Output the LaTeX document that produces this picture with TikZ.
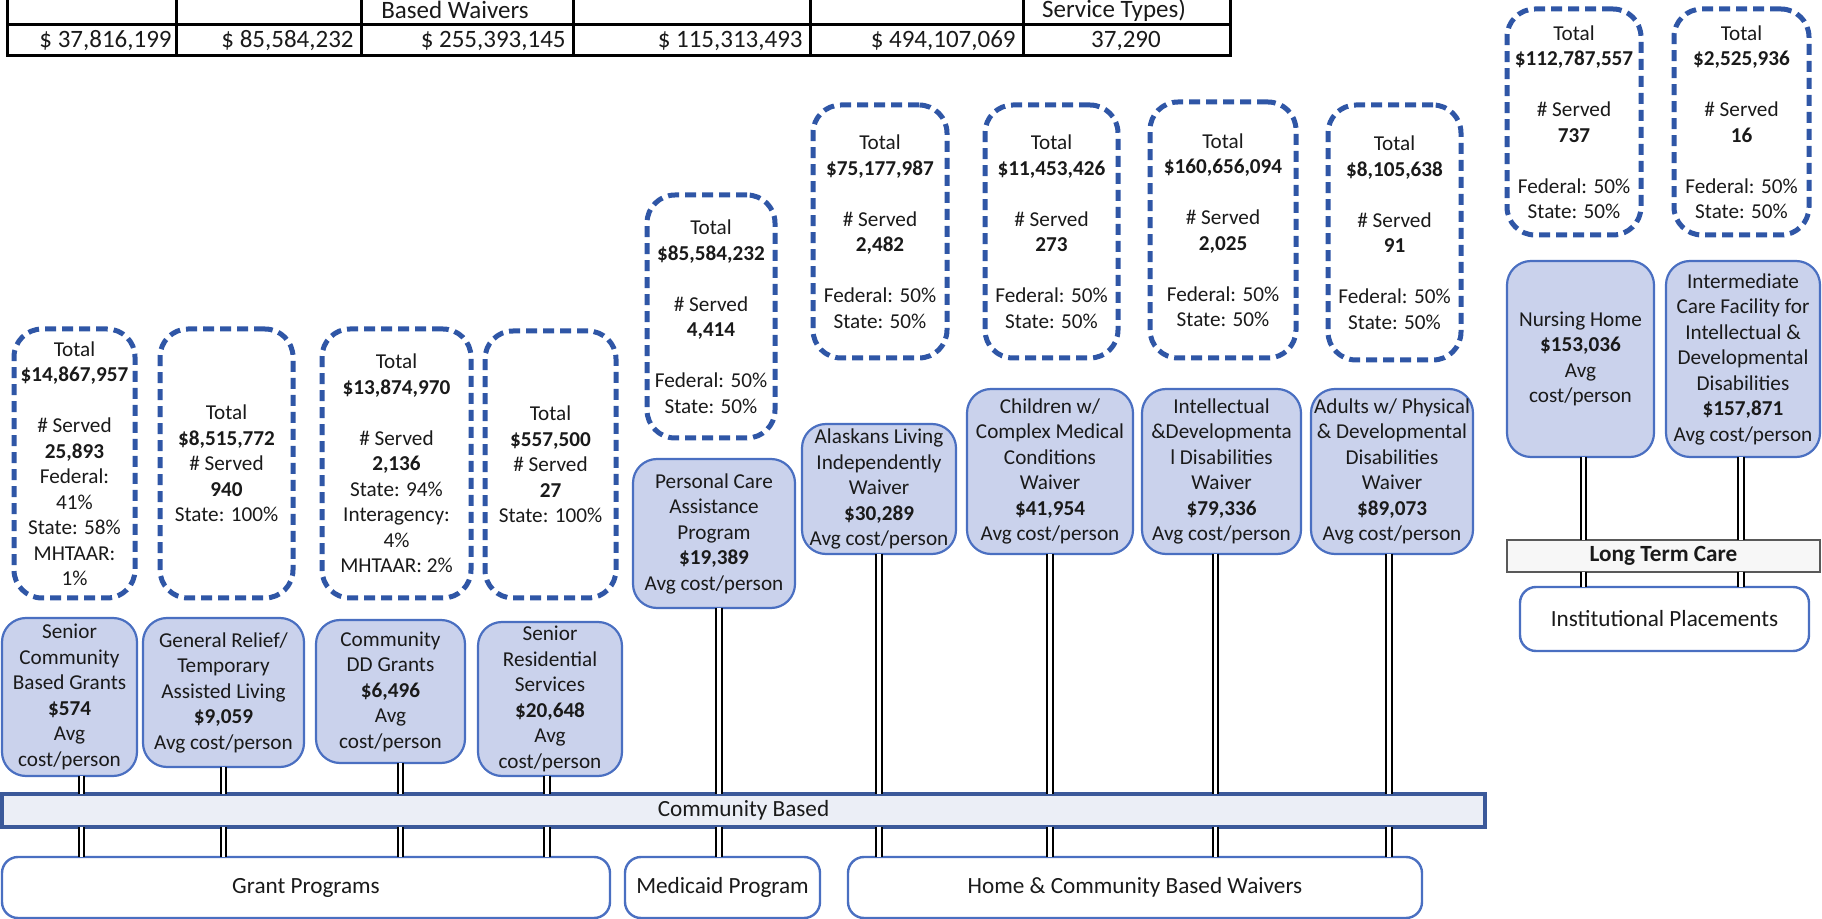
\documentclass[tikz,border=0pt]{standalone}
\usepackage{fontspec}
\setmainfont{Carlito}
\definecolor{dblue}{HTML}{2F56A6}
\definecolor{fblue}{HTML}{CAD2EC}
\definecolor{bblue}{HTML}{4A6FC1}
\definecolor{cbfill}{HTML}{EBEEF6}
\definecolor{txt}{HTML}{1A1A1A}
\tikzset{
  boxfont/.style={font=\fontsize{10.6}{12.75}\selectfont, text=txt},
  dashbox/.style={boxfont, draw=dblue, line width=2.5pt, dash pattern=on 5.5pt off 3pt, rounded corners=14pt, fill=white, align=center, inner sep=0pt, outer sep=0pt},
  fillbox/.style={boxfont, draw=bblue, line width=1.1pt, fill=fblue, rounded corners=12pt, align=center, inner sep=0pt, outer sep=0pt},
  catbox/.style={draw=bblue, line width=1.2pt, fill=white, rounded corners=8pt, align=center, inner sep=0pt, outer sep=0pt, font=\fontsize{11.6}{14}\selectfont, text=txt},
  cbar/.style={draw=bblue!80!black, line width=1.6pt, fill=cbfill, inner sep=0pt, outer sep=0pt, font=\fontsize{11.6}{14}\selectfont, text=txt},
  ltcbar/.style={draw=black!65, line width=1.2pt, fill=black!3, inner sep=0pt, outer sep=0pt, font=\bfseries\fontsize{11.6}{14}\selectfont, text=txt},
  dbl/.style={draw=black, line width=0.9pt, double=white, double distance=1.8pt},
  tbl/.style={draw=black, line width=1.5pt},
  tcell/.style={font=\fontsize{12.5}{14}\selectfont, inner sep=2pt, text=txt}
}
\newcommand\mkbox[7]{%
  \pgfmathsetmacro\bw{(#5-#3)*0.5}%
  \pgfmathsetmacro\bh{(#6-#4)*0.5}%
  \node[#1, minimum width=\bw pt, minimum height=\bh pt] (#2) at ({(#3+#5)/2},{(#4+#6)/2}) {#7};}
\begin{document}
\begin{tikzpicture}[x=0.5pt,y=-0.5pt]
\useasboundingbox (0,0) rectangle (1822,919);
% ---- table ----
\draw[tbl] (7,0) -- (7,56) -- (1230,56) -- (1230,0);
\draw[tbl] (7,25) -- (1230,25);
\foreach \x in {176,361,573,810,1023} \draw[tbl] (\x,0) -- (\x,56);
\node[tcell] (h3) at (455,10) {Based Waivers};
\node[tcell] (h6) at (1114,10) {Service Types)};
\node[tcell, anchor=east] (v1) at (176,41) {\$ 37,816,199};
\node[tcell, anchor=east] (v2) at (358,41) {\$ 85,584,232};
\node[tcell, anchor=east] (v3) at (570,41) {\$ 255,393,145};
\node[tcell, anchor=east] (v4) at (807,41) {\$ 115,313,493};
\node[tcell, anchor=east] (v5) at (1020,41) {\$ 494,107,069};
\node[tcell] (v6) at (1126,41) {37,290};
% ---- dashed funding boxes ----
\mkbox{dashbox}{d1}{14}{329}{135}{598}{Total\\\textbf{\$14,867,957}\\[12.75pt]\# Served\\\textbf{25,893}\\Federal:\\41\%\\State: 58\%\\MHTAAR:\\1\%}
\mkbox{dashbox}{d2}{160}{329}{293}{598}{Total\\\textbf{\$8,515,772}\\\# Served\\\textbf{940}\\State: 100\%}
\mkbox{dashbox}{d3}{322}{329}{471}{598}{Total\\\textbf{\$13,874,970}\\[12.75pt]\# Served\\\textbf{2,136}\\State: 94\%\\Interagency:\\4\%\\MHTAAR: 2\%}
\mkbox{dashbox}{d4}{485}{331}{616}{598}{Total\\\textbf{\$557,500}\\\# Served\\\textbf{27}\\State: 100\%}
\mkbox{dashbox}{d5}{647}{195}{775}{438}{Total\\\textbf{\$85,584,232}\\[12.75pt]\# Served\\\textbf{4,414}\\[12.75pt]Federal: 50\%\\State: 50\%}
\mkbox{dashbox}{d6}{813}{105}{947}{358}{Total\\\textbf{\$75,177,987}\\[12.75pt]\# Served\\\textbf{2,482}\\[12.75pt]Federal: 50\%\\State: 50\%}
\mkbox{dashbox}{d7}{985}{105}{1118}{358}{Total\\\textbf{\$11,453,426}\\[12.75pt]\# Served\\\textbf{273}\\[12.75pt]Federal: 50\%\\State: 50\%}
\mkbox{dashbox}{d8}{1150}{102}{1296}{358}{Total\\\textbf{\$160,656,094}\\[12.75pt]\# Served\\\textbf{2,025}\\[12.75pt]Federal: 50\%\\State: 50\%}
\mkbox{dashbox}{d9}{1328}{105}{1461}{360}{Total\\\textbf{\$8,105,638}\\[12.75pt]\# Served\\\textbf{91}\\[12.75pt]Federal: 50\%\\State: 50\%}
\mkbox{dashbox}{d10}{1507}{9}{1641}{235}{Total\\\textbf{\$112,787,557}\\[12.75pt]\# Served\\\textbf{737}\\[12.75pt]Federal: 50\%\\State: 50\%}
\mkbox{dashbox}{d11}{1674}{9}{1809}{235}{Total\\\textbf{\$2,525,936}\\[12.75pt]\# Served\\\textbf{16}\\[12.75pt]Federal: 50\%\\State: 50\%}
% ---- filled program boxes ----
\mkbox{fillbox}{f1}{2}{618}{137}{776}{Senior\\Community\\Based Grants\\\textbf{\$574}\\Avg\\cost/person}
\mkbox{fillbox}{f2}{143}{618}{304}{767}{General Relief/\\Temporary\\Assisted Living\\\textbf{\$9,059}\\Avg cost/person}
\mkbox{fillbox}{f3}{316}{620}{465}{763}{Community\\DD Grants\\\textbf{\$6,496}\\Avg\\cost/person}
\mkbox{fillbox}{f4}{478}{622}{622}{776}{Senior\\Residential\\Services\\\textbf{\$20,648}\\Avg\\cost/person}
\mkbox{fillbox}{f5}{633}{459}{795}{608}{Personal Care\\Assistance\\Program\\\textbf{\$19,389}\\Avg cost/person}
\mkbox{fillbox}{f6}{802}{424}{956}{554}{Alaskans Living\\Independently\\Waiver\\\textbf{\$30,289}\\Avg cost/person}
\mkbox{fillbox}{f7}{967}{389}{1133}{554}{Children w/\\Complex Medical\\Conditions\\Waiver\\\textbf{\$41,954}\\Avg cost/person}
\mkbox{fillbox}{f8}{1142}{389}{1301}{554}{Intellectual\\\&Developmenta\\l Disabilities\\Waiver\\\textbf{\$79,336}\\Avg cost/person}
\mkbox{fillbox}{f9}{1311}{389}{1473}{554}{Adults w/ Physical\\\& Developmental\\Disabilities\\Waiver\\\textbf{\$89,073}\\Avg cost/person}
\mkbox{fillbox}{f10}{1507}{261}{1654}{457}{Nursing Home\\\textbf{\$153,036}\\Avg\\cost/person}
\mkbox{fillbox}{f11}{1666}{261}{1820}{457}{Intermediate\\Care Facility for\\Intellectual \&\\Developmental\\Disabilities\\\textbf{\$157,871}\\Avg cost/person}
% ---- bars and categories ----
\mkbox{cbar}{cb}{2}{794}{1485}{827}{Community Based}
\mkbox{catbox}{gp}{2}{857}{610}{918}{Grant Programs}
\mkbox{catbox}{mp}{625}{857}{820}{918}{Medicaid Program}
\mkbox{catbox}{hc}{848}{857}{1422}{918}{Home \& Community Based Waivers}
\mkbox{ltcbar}{ltc}{1507}{540}{1820}{572}{Long Term Care}
\mkbox{catbox}{ip}{1520}{587}{1809}{651}{Institutional Placements}
% ---- connectors ----
\coordinate (c1) at ([xshift=6pt]f1.south);
\coordinate (c2) at (f2.south);
\coordinate (c3) at ([xshift=5pt]f3.south);
\coordinate (c4) at ([xshift=-1.5pt]f4.south);
\coordinate (c5) at ([xshift=2.5pt]f5.south);
\coordinate (c6) at (f6.south);
\coordinate (c7) at (f7.south);
\coordinate (c8) at ([xshift=-3pt]f8.south);
\coordinate (c9) at ([xshift=-1.5pt]f9.south);
\coordinate (c10) at ([xshift=1.5pt]f10.south);
\coordinate (c11) at ([xshift=-1pt]f11.south);
\foreach \c in {c1,c2,c3,c4,c5,c6,c7,c8,c9}
  \draw[dbl] (\c) -- (\c |- cb.north);
\foreach \c in {c1,c2,c3,c4} \draw[dbl] (\c |- cb.south) -- (\c |- gp.north);
\draw[dbl] (c5 |- cb.south) -- (c5 |- mp.north);
\foreach \c in {c6,c7,c8,c9} \draw[dbl] (\c |- cb.south) -- (\c |- hc.north);
\foreach \c in {c10,c11} {
  \draw[dbl] (\c) -- (\c |- ltc.north);
  \draw[dbl] (\c |- ltc.south) -- (\c |- ip.north);
}
\end{tikzpicture}
\end{document}
